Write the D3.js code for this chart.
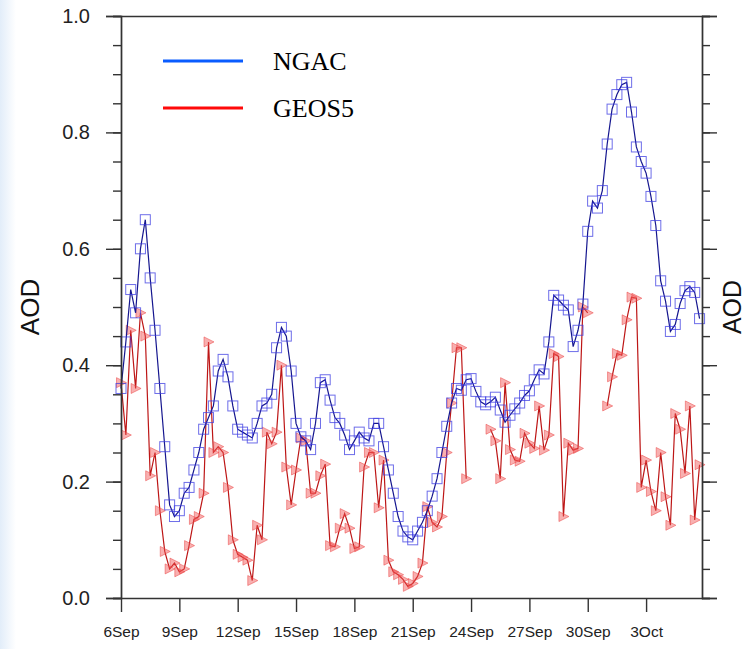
<!DOCTYPE html>
<html>
<head>
<meta charset="utf-8">
<script src="https://cdn.jsdelivr.net/npm/d3@7/dist/d3.min.js"></script>
<style>
  body { margin: 0; background: #ffffff; }
  svg { display: block; }
</style>
</head>
<body>
<svg id="chart" width="745" height="649"></svg>
<script>
// 6-hourly aerosol optical depth, starting 6 Sep 00Z
const seriesStart = "2015-09-06T00:00:00Z";
const stepHours = 6;

const ngacAOD = [
  0.36, 0.44, 0.53, 0.49, 0.60, 0.65, 0.55, 0.46,
  0.36, 0.26, 0.16, 0.14, 0.15, 0.18, 0.19, 0.22,
  0.25, 0.29, 0.31, 0.33, 0.39, 0.41, 0.38, 0.33,
  0.29, 0.285, 0.28, 0.275, 0.30, 0.33, 0.335, 0.35,
  0.43, 0.465, 0.45, 0.39, 0.30, 0.277, 0.27, 0.255,
  0.30, 0.37, 0.375, 0.34, 0.31, 0.30, 0.28, 0.255,
  0.27, 0.285, 0.275, 0.27, 0.30, 0.30, 0.26, 0.22,
  0.18, 0.14, 0.115, 0.105, 0.10, 0.115, 0.13, 0.15,
  0.175, 0.205, 0.25, 0.295, 0.335, 0.36, 0.357, 0.375,
  0.377, 0.355, 0.337, 0.332, 0.337, 0.345, 0.323, 0.302,
  0.314, 0.325, 0.335, 0.348, 0.356, 0.375, 0.392, 0.385,
  0.44, 0.52, 0.512, 0.503, 0.495, 0.432, 0.46, 0.505,
  0.63, 0.682, 0.67, 0.70, 0.78, 0.84, 0.865, 0.882,
  0.886, 0.835, 0.775, 0.75, 0.73, 0.69, 0.64, 0.545,
  0.51, 0.458, 0.47, 0.506, 0.528, 0.535, 0.525, 0.48
];

// null marks missing GEOS5 output
const geos5AOD = [
  0.37, 0.28, 0.46, 0.36, 0.49, 0.45, 0.21, 0.25,
  0.15, 0.08, 0.05, 0.06, 0.045, 0.05, 0.09, 0.135,
  0.14, 0.18, 0.44, 0.25, 0.26, 0.25, 0.19, 0.10,
  0.075, 0.07, 0.065, 0.03, 0.125, 0.10, 0.285, 0.265,
  0.285, 0.40, 0.225, 0.16, 0.22, 0.275, 0.27, 0.18,
  0.18, 0.21, 0.23, 0.09, 0.088, 0.12, 0.145, 0.12,
  0.085, 0.088, 0.225, 0.25, 0.25, 0.155, 0.237, 0.065,
  0.045, 0.04, 0.032, 0.02, 0.025, 0.037, 0.06, 0.157,
  0.13, 0.122, 0.14, 0.25, 0.335, 0.43, 0.43, 0.205,
  null, null, null, null, 0.29, 0.27, 0.205, 0.37,
  0.255, 0.237, 0.235, 0.283, 0.266, 0.257, 0.33, 0.254,
  0.28, 0.42, 0.415, 0.14, 0.266, 0.254, 0.257, 0.50,
  0.49, null, null, null, 0.33, 0.38, 0.42, 0.417,
  0.478, 0.517, 0.515, 0.19, 0.237, 0.183, 0.15, 0.25,
  0.174, 0.125, 0.317, 0.29, 0.214, 0.33, 0.134, 0.229
];

const xTickDates = ["2015-09-06", "2015-09-09", "2015-09-12", "2015-09-15", "2015-09-18",
                    "2015-09-21", "2015-09-24", "2015-09-27", "2015-09-30", "2015-10-03"];
const yTicks = [0, 0.2, 0.4, 0.6, 0.8, 1.0];
const yMinorTicks = d3.range(0, 21).map(i => i * 0.05);
const legendItems = [
  { name: "NGAC", color: "#0a5cff" },
  { name: "GEOS5", color: "#ff0a0a" }
];

const svg = d3.select("#chart");
const W = 745, H = 649;
const plot = { left: 121, right: 702, top: 16, bottom: 598 };

// soft bluish page edge
const defs = svg.append("defs");
const edge = defs.append("linearGradient").attr("id", "edge").attr("x1", 0).attr("x2", 1);
edge.append("stop").attr("offset", 0).attr("stop-color", "#e2edf9");
edge.append("stop").attr("offset", 1).attr("stop-color", "#ffffff");
svg.append("rect").attr("width", W).attr("height", H).attr("fill", "#fff");
svg.append("rect").attr("x", 0).attr("y", 0).attr("width", 16).attr("height", H).attr("fill", "url(#edge)");

const parseT = d3.isoParse;
const t0 = parseT(seriesStart);
const timeAt = i => new Date(t0.getTime() + i * stepHours * 3600 * 1000);

const x = d3.scaleUtc()
  .domain([t0, parseT("2015-10-05T21:00:00Z")])
  .range([plot.left, plot.right]);
const y = d3.scaleLinear().domain([0, 1]).range([plot.bottom, plot.top]);

const ngac = ngacAOD.map((v, i) => ({ t: timeAt(i), v }));
const geos = geos5AOD.map((v, i) => ({ t: timeAt(i), v }));

const line = d3.line()
  .defined(d => d.v !== null)
  .x(d => x(d.t))
  .y(d => y(d.v));

// GEOS5: dark red line with right-pointing triangles
const gGeos = svg.append("g");
gGeos.append("path").datum(geos)
  .attr("d", line)
  .attr("fill", "none")
  .attr("stroke", "#bd1616")
  .attr("stroke-width", 1.2);
gGeos.selectAll("path.tri").data(geos.filter(d => d.v !== null)).join("path")
  .attr("class", "tri")
  .attr("d", "M-4.5,-5L5.5,0L-4.5,5Z")
  .attr("transform", d => `translate(${x(d.t)},${y(d.v)})`)
  .attr("fill", "rgba(240,80,80,0.45)")
  .attr("stroke", "rgba(235,70,70,0.65)")
  .attr("stroke-width", 0.8);

// NGAC: navy line with open squares
const gNgac = svg.append("g");
gNgac.append("path").datum(ngac)
  .attr("d", line)
  .attr("fill", "none")
  .attr("stroke", "#15168f")
  .attr("stroke-width", 1.2);
gNgac.selectAll("rect.sq").data(ngac).join("rect")
  .attr("class", "sq")
  .attr("x", d => x(d.t) - 5)
  .attr("y", d => y(d.v) - 5)
  .attr("width", 10)
  .attr("height", 10)
  .attr("fill", "none")
  .attr("stroke", "rgba(60,60,225,0.75)")
  .attr("stroke-width", 1);

// Axes
const axisColor = "#333";
function styleAxis(g) {
  g.selectAll("path.domain").attr("stroke", axisColor).attr("stroke-width", 1.4);
  g.selectAll(".tick line").attr("stroke", axisColor).attr("stroke-width", 1.4);
}

// left: major ticks with labels, minor ticks
svg.append("g").attr("transform", `translate(${plot.left},0)`)
  .call(d3.axisLeft(y).tickValues(yMinorTicks).tickSize(8).tickFormat(""))
  .call(styleAxis);
const gLeft = svg.append("g").attr("transform", `translate(${plot.left},0)`)
  .call(d3.axisLeft(y).tickValues(yTicks).tickSize(15).tickPadding(16).tickFormat(d3.format(".1f")))
  .call(styleAxis);
gLeft.selectAll("text")
  .attr("font-family", "'Liberation Sans', Arial, sans-serif")
  .attr("font-size", 20)
  .attr("fill", "#222");

// right: ticks only
svg.append("g").attr("transform", `translate(${plot.right},0)`)
  .call(d3.axisRight(y).tickValues(yMinorTicks).tickSize(8).tickFormat(""))
  .call(styleAxis);
svg.append("g").attr("transform", `translate(${plot.right},0)`)
  .call(d3.axisRight(y).tickValues(yTicks).tickSize(15).tickFormat(""))
  .call(styleAxis);

// top frame
svg.append("g").attr("transform", `translate(0,${plot.top})`)
  .call(d3.axisTop(x).tickValues([]).tickSizeOuter(0))
  .call(styleAxis);

// bottom: date ticks every 3 days
const gBottom = svg.append("g").attr("transform", `translate(0,${plot.bottom})`)
  .call(d3.axisBottom(x)
    .tickValues(xTickDates.map(s => parseT(s + "T00:00:00Z")))
    .tickSize(14).tickSizeOuter(0).tickPadding(14)
    .tickFormat(d3.utcFormat("%-d%b")))
  .call(styleAxis);
gBottom.selectAll("text")
  .attr("font-family", "'Liberation Sans', Arial, sans-serif")
  .attr("font-size", 15.5)
  .attr("fill", "#222");

// axis titles
svg.append("text")
  .attr("transform", `translate(39,${(plot.top + plot.bottom) / 2}) rotate(-90)`)
  .attr("text-anchor", "middle")
  .attr("font-family", "'Liberation Sans', Arial, sans-serif")
  .attr("font-size", 26)
  .attr("fill", "#111")
  .text("AOD");
svg.append("text")
  .attr("transform", `translate(741,${(plot.top + plot.bottom) / 2}) rotate(-90)`)
  .attr("text-anchor", "middle")
  .attr("font-family", "'Liberation Sans', Arial, sans-serif")
  .attr("font-size", 25)
  .attr("fill", "#111")
  .text("AOD");

// legend
const lg = svg.append("g");
legendItems.forEach((item, i) => {
  const ly = 61 + i * 47;
  lg.append("line")
    .attr("x1", 163).attr("x2", 243).attr("y1", ly).attr("y2", ly)
    .attr("stroke", item.color).attr("stroke-width", 3);
  lg.append("text")
    .attr("x", 273).attr("y", ly + 9)
    .attr("font-family", "'Liberation Serif', 'Times New Roman', serif")
    .attr("font-size", 26)
    .attr("fill", "#000")
    .text(item.name);
});
</script>
</body>
</html>
